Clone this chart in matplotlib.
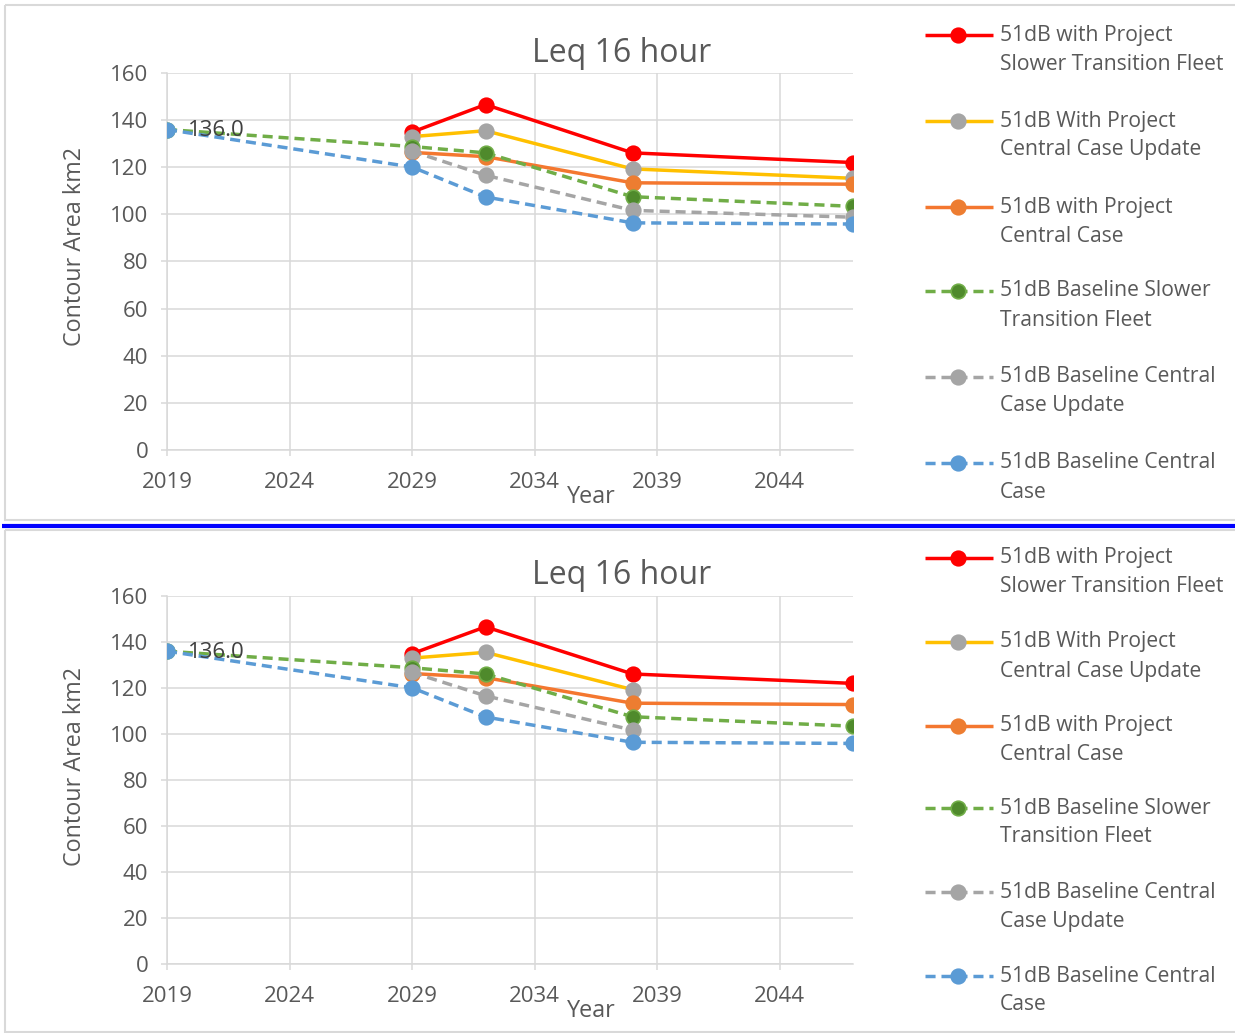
import numpy as np
import matplotlib
matplotlib.use("Agg")
import matplotlib.pyplot as plt
from matplotlib.patches import Rectangle
from matplotlib.lines import Line2D

plt.rcParams['font.family'] = ['Open Sans', 'DejaVu Sans']

# ---------------- data ----------------
years = [2019, 2029, 2032, 2038, 2047]
nan = np.nan
red_vals = [nan, 134.9, 146.6, 126.1, 122.0]
yellow_vals = [nan, 133.0, 135.5, 119.3, 115.3]
orange_vals = [nan, 126.3, 124.5, 113.4, 112.8]
green_vals = [136.0, 128.8, 126.1, 107.5, 103.4]
gray_vals = [nan, 126.8, 116.6, 101.7, 98.8]
blue_vals = [136.0, 120.1, 107.4, 96.4, 95.9]
# bottom chart: two series have no 2047 value
yellow_vals_b = [nan, 133.0, 135.5, 119.3, nan]
gray_vals_b = [nan, 126.8, 116.6, 101.7, nan]

labels = [
    ("51dB with Project", "Slower Transition Fleet"),
    ("51dB With Project", "Central Case Update"),
    ("51dB with Project", "Central Case"),
    ("51dB Baseline Slower", "Transition Fleet"),
    ("51dB Baseline Central", "Case Update"),
    ("51dB Baseline Central", "Case"),
]
yticks = list(range(0, 161, 20))
xticks = [2019, 2024, 2029, 2034, 2039, 2044]
title = "Leq 16 hour"
ylabel = "Contour Area km2"
xlabel = "Year"
label_value = 136.0

# styles: (line colour, marker face, marker edge, dashed)
styles = [
    ("#FF0000", "#FF0000", "#FF0000", False),
    ("#FFC000", "#A5A5A5", "#A5A5A5", False),
    ("#F4772F", "#ED7D31", "#ED7D31", False),
    ("#70AD47", "#4F8A2C", "#70AD47", True),
    ("#A5A5A5", "#A5A5A5", "#A5A5A5", True),
    ("#5B9BD5", "#5B9BD5", "#5B9BD5", True),
]

W, H = 1235, 1033
fig = plt.figure(figsize=(W / 100, H / 100), dpi=100)

GRID = "#D9D9D9"
TXT = "#595959"
LW = 2.5
DASH = (2.9, 1.7)
MS = 10.5


def px_axes(left, top, right, bottom):
    return fig.add_axes([left / W, 1 - bottom / H, (right - left) / W, (bottom - top) / H])


def draw_panel(ax, series):
    ax.set_facecolor("none")
    for vals, (lc, mfc, mec, dashed) in zip(series, styles):
        ln, = ax.plot(years, vals, color=lc, lw=LW, marker="o", ms=MS,
                      mfc=mfc, mec=mec, mew=1.2, zorder=3,
                      solid_capstyle="butt", dash_capstyle="butt")
        if dashed:
            ln.set_dashes(DASH)
    ax.set_xlim(2019, 2047)
    ax.set_ylim(0, 160)
    ax.set_xticks(xticks)
    ax.set_yticks(yticks)
    ax.grid(True, color=GRID, lw=1.1, zorder=0)
    ax.set_axisbelow(True)
    for s in ("top", "right"):
        ax.spines[s].set_visible(False)
    for s in ("left", "bottom"):
        ax.spines[s].set_color(GRID)
        ax.spines[s].set_linewidth(1.1)
    ax.tick_params(axis="both", direction="out", length=4.5, width=1.1,
                   color=GRID, labelcolor=TXT, labelsize=16)
    ax.tick_params(axis="x", pad=11)
    ax.tick_params(axis="y", pad=9)
    ax.annotate(f"{label_value:.1f}", xy=(years[0], label_value),
                xytext=(21, -1), textcoords="offset pixels",
                ha="left", va="center", fontsize=16, color="#404040", zorder=5)


ax1 = px_axes(167, 73, 853, 450)
draw_panel(ax1, [red_vals, yellow_vals, orange_vals, green_vals, gray_vals, blue_vals])
ax2 = px_axes(167, 596, 853, 964)
draw_panel(ax2, [red_vals, yellow_vals_b, orange_vals, green_vals, gray_vals_b, blue_vals])

# overlay for frames, titles and legends
ov = fig.add_axes([0, 0, 1, 1], zorder=-1)
ov.set_xlim(0, W)
ov.set_ylim(H, 0)
ov.axis("off")

ov.add_patch(Rectangle((5, 5), W + 10, 515, fill=False, ec=GRID, lw=1.5))
ov.add_patch(Rectangle((5, 529.5), W + 10, 502, fill=False, ec=GRID, lw=1.5))
ov.plot([2, W], [526, 526], color="#0000FF", lw=3.0, solid_capstyle="butt")


def panel_text(title_y, year_y, ylabel_y, legend_rows):
    ov.text(622, title_y, title, ha="center", va="center", fontsize=23, color=TXT)
    ov.text(591, year_y, xlabel, ha="center", va="center", fontsize=16.8, color=TXT)
    ov.text(75, ylabel_y, ylabel, ha="center", va="center", fontsize=16.8,
            color=TXT, rotation=90)
    for (l1, l2), (lc, mfc, mec, dashed), y in zip(labels, styles, legend_rows):
        ln = Line2D([925, 993], [y, y], color=lc, lw=LW, solid_capstyle="butt",
                    dash_capstyle="butt")
        if dashed:
            ln.set_dashes(DASH)
        ov.add_line(ln)
        ov.add_line(Line2D([958], [y], marker="o", ms=MS, mfc=mfc, mec=mec, mew=1.2,
                           linestyle="none"))
        ov.text(1000, y, l1, ha="left", va="center", fontsize=15.2, color=TXT)
        ov.text(1000, y + 29, l2, ha="left", va="center", fontsize=15.2, color=TXT)


panel_text(53, 497, 247, [35, 121, 207, 291, 377, 463])
panel_text(576, 1011, 767, [558, 642, 726, 808, 892, 976])

fig.savefig("out.png", dpi=100)
